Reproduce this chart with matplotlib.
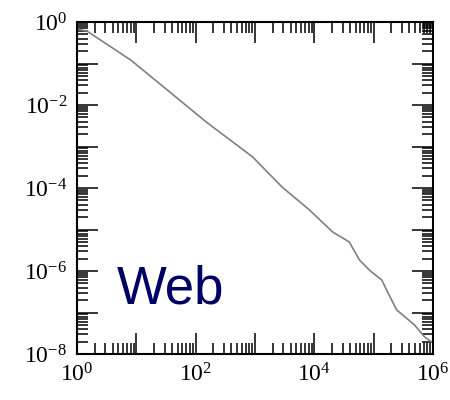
import matplotlib
matplotlib.use("Agg")
import matplotlib.pyplot as plt
import matplotlib.ticker as mticker
import numpy as np

# degree distribution (log10 values)
log_k = [0.0, 0.17, 0.91, 1.55, 1.72, 2.18, 2.96, 3.46, 3.92, 4.31, 4.59,
         4.76, 4.93, 5.14, 5.22, 5.39, 5.69, 5.86, 6.0]
log_p = [-0.17, -0.22, -0.92, -1.67, -1.87, -2.41, -3.25, -3.98, -4.53, -5.06, -5.30,
         -5.73, -5.98, -6.22, -6.46, -6.94, -7.30, -7.59, -7.73]
label = "Web"

plt.rcParams["mathtext.fontset"] = "custom"
plt.rcParams["mathtext.rm"] = "Liberation Serif"
plt.rcParams["font.family"] = "Liberation Serif"

k = 10 ** np.array(log_k)
p = 10 ** np.array(log_p)

fig = plt.figure(figsize=(4.5, 4), dpi=100)
ax = fig.add_axes([0.171, 0.115, 0.791, 0.83])

ax.plot(k, p, color="#808080", lw=1.2)

ax.set_xscale("log")
ax.set_yscale("log")
ax.set_xlim(1, 1e6)
ax.set_ylim(1e-8, 1)


def even_only(v, pos):
    e = int(round(np.log10(v)))
    if e % 2:
        return ""
    return r"$\mathregular{10^{%d}}$" % e


for axis in (ax.xaxis, ax.yaxis):
    axis.set_major_locator(mticker.LogLocator(base=10, numticks=20))
    axis.set_minor_locator(mticker.LogLocator(base=10, subs=np.arange(2, 10), numticks=20))
    axis.set_major_formatter(mticker.FuncFormatter(even_only))
    axis.set_minor_formatter(mticker.NullFormatter())

ax.tick_params(which="both", direction="in", top=True, right=True, width=1.1,
               labelsize=17)
ax.tick_params(which="major", length=15, pad=7)
ax.tick_params(which="minor", length=8)
for s in ax.spines.values():
    s.set_linewidth(1.5)

# position in pixels, measured from the bottom-left corner
ax.text(117, 97, label, transform=None, color="#000066", fontsize=38,
        family="Liberation Sans", va="baseline", ha="left")

fig.savefig("out.png", dpi=100)
